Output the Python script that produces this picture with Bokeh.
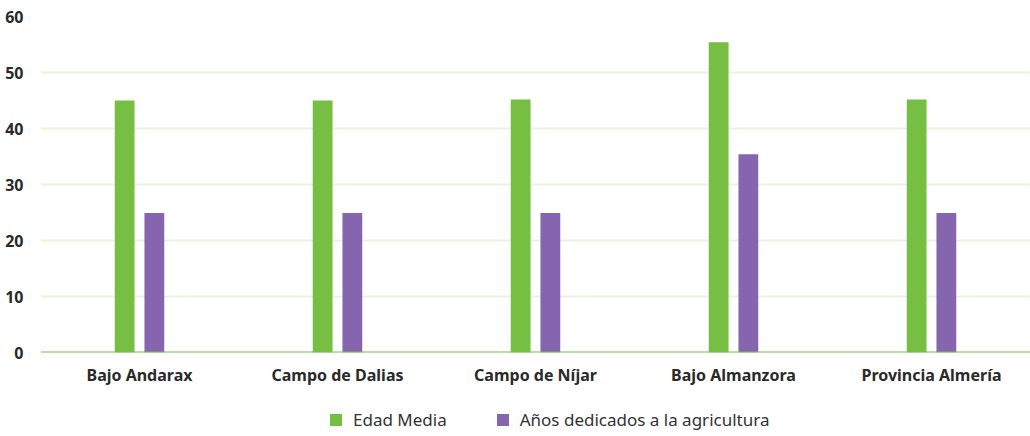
from bokeh.plotting import figure
from bokeh.models import FactorRange, Range1d, Legend, LegendItem, Span, ColumnDataSource
from bokeh.layouts import column
from bokeh.transform import dodge
from bokeh.embed import file_html
from bokeh.resources import INLINE

categories = ["Bajo Andarax", "Campo de Dalias", "Campo de Níjar", "Bajo Almanzora", "Provincia Almería"]
edad_media = [45.0, 45.0, 45.2, 55.4, 45.2]
anos_agricultura = [24.9, 24.9, 24.9, 35.4, 24.9]
y_ticks = [0, 10, 20, 30, 40, 50, 60]
series_labels = ["Edad Media", "Años dedicados a la agricultura"]

GREEN = "#77bf43"
PURPLE = "#8565ae"
FONT = "Noto Sans"

src = ColumnDataSource(dict(cat=categories, edad=edad_media, anos=anos_agricultura))

p = figure(frame_width=990, frame_height=336, x_range=FactorRange(*categories, range_padding=0),
           y_range=Range1d(0, 60), output_backend="svg", toolbar_location=None,
           min_border_left=40, min_border_right=0, min_border_top=16, min_border_bottom=40)
p.outline_line_color = None

r1 = p.vbar(x=dodge("cat", -0.075, range=p.x_range), top="edad", width=0.1, source=src,
            fill_color=GREEN, line_color=None)
r2 = p.vbar(x=dodge("cat", 0.075, range=p.x_range), top="anos", width=0.1, source=src,
            fill_color=PURPLE, line_color=None)

p.add_layout(Span(location=0, dimension="width", line_color=GREEN, line_width=2))

p.xgrid.grid_line_color = None
p.ygrid.grid_line_color = "#e9f1df"
p.ygrid.grid_line_width = 2
p.yaxis.ticker = y_ticks

for ax in (p.xaxis[0], p.yaxis[0]):
    ax.axis_line_color = None
    ax.major_tick_line_color = None
    ax.minor_tick_line_color = None
    ax.major_label_text_font = FONT
    ax.major_label_text_font_size = "16px"
    ax.major_label_text_font_style = "bold"
    ax.major_label_text_color = "#2a2a2a"

p.yaxis.major_label_standoff = 11
p.xaxis.major_label_standoff = 5

# legend in a small strip figure below (bars there fall outside its y range, only legend glyphs show)
p2 = figure(width=1030, height=44, output_backend="svg", toolbar_location=None,
            x_axis_type=None, y_axis_type=None, min_border=0,
            x_range=p.x_range, y_range=Range1d(100, 101))
p2.outline_line_color = None
p2.grid.grid_line_color = None
l1 = p2.vbar(x="cat", top="edad", width=0.1, source=src, fill_color=GREEN, line_color=None)
l2 = p2.vbar(x="cat", top="anos", width=0.1, source=src, fill_color=PURPLE, line_color=None)

legend = Legend(items=[LegendItem(label=series_labels[0], renderers=[l1]),
                       LegendItem(label=series_labels[1], renderers=[l2])],
                orientation="horizontal", location=(288, 5),
                border_line_color=None, background_fill_alpha=0,
                label_text_font=FONT, label_text_font_size="17px", label_text_color="#333333",
                glyph_width=15, glyph_height=15, label_standoff=10, spacing=48,
                margin=0, padding=0)
p2.add_layout(legend, "center")

layout = column(p, p2, spacing=0)
open("out.html", "w").write(file_html(layout, INLINE))
